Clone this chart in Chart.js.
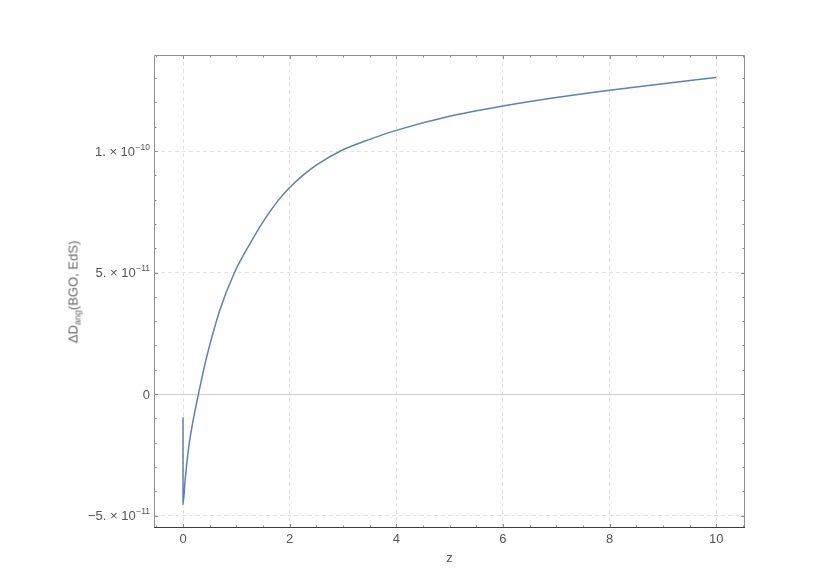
<!DOCTYPE html>
<html>
<head>
<meta charset="utf-8">
<script src="https://cdn.jsdelivr.net/npm/chart.js@4"></script>
<style>
  body { margin: 0; background: #fff; }
  #wrap { position: relative; width: 830px; height: 587px; }
  #ytitle {
    position: absolute; left: 73px; top: 292px;
    transform: translate(-50%, -50%) rotate(-90deg);
    font: 13px "Liberation Sans", Arial, sans-serif; color: #666; white-space: nowrap;
  }
  #ytitle sub { font-size: 9px; vertical-align: baseline; position: relative; top: 3px; }
</style>
</head>
<body>
<div id="wrap">
  <canvas id="chart"></canvas>
  <div id="ytitle">ΔD<sub>ang</sub>(BGO, EdS)</div>
</div>
<script>
// ---- data ----
const zValues = [0, 0, 0.04, 0.1, 0.18, 0.29, 0.43, 0.69, 0.96, 1.26, 1.54, 1.79, 2.0, 2.26, 2.5, 3.0, 3.5, 4.0, 5.0, 6.0, 7.0, 8.0, 9.0, 10.0];
const deltaD = [-0.95e-11, -4.53e-11, -3.54e-11, -2.3e-11, -1.2e-11, 0, 1.4e-11, 3.45e-11, 4.97e-11, 6.2e-11, 7.22e-11, 7.98e-11,
                8.5e-11, 9.02e-11, 9.42e-11, 10.05e-11, 10.48e-11, 10.85e-11, 11.43e-11, 11.85e-11, 12.2e-11, 12.5e-11, 12.77e-11, 13.02e-11];

const xMajorTicks = [0, 2, 4, 6, 8, 10];
const yTickValues = [-5e-11, 0, 5e-11, 1e-10];
const yTickMantissa = ['−5. × 10', '0', '5. × 10', '1. × 10'];
const yTickExponent = ['−11', '', '−11', '−10'];

const FONT_FAMILY = '"Liberation Sans", Arial, sans-serif';
const FONT = { family: FONT_FAMILY, size: 13 };
const LABEL_COLOR = '#555';

const isMajorX = v => xMajorTicks.some(m => Math.abs(m - v) < 1e-6);
const yMajorIndex = v => yTickValues.findIndex(m => Math.abs(m - v) < 1e-14);

// frame, zero line, inward tick marks and y labels with superscripts
const framePlugin = {
  id: 'frame',
  beforeDatasetsDraw(chart) {
    const { ctx, chartArea: a, scales: { y } } = chart;
    const y0 = Math.round(y.getPixelForValue(0)) + 0.5;
    ctx.save();
    ctx.strokeStyle = '#cfcfcf';
    ctx.lineWidth = 1;
    ctx.beginPath();
    ctx.moveTo(a.left, y0);
    ctx.lineTo(a.right, y0);
    ctx.stroke();
    ctx.restore();
  },
  afterDraw(chart) {
    const { ctx, chartArea: a, scales: { x, y } } = chart;
    const seg = (x1, y1, x2, y2) => { ctx.beginPath(); ctx.moveTo(x1, y1); ctx.lineTo(x2, y2); ctx.stroke(); };
    ctx.save();
    ctx.lineWidth = 1;
    ctx.strokeStyle = '#8f8f8f';
    ctx.beginPath();
    ctx.moveTo(a.left + 0.5, a.bottom);
    ctx.lineTo(a.left + 0.5, a.top + 0.5);
    ctx.lineTo(a.right - 0.5, a.top + 0.5);
    ctx.lineTo(a.right - 0.5, a.bottom);
    ctx.stroke();

    x.ticks.forEach(t => {
      const px = Math.round(x.getPixelForValue(t.value)) + 0.5;
      const len = isMajorX(t.value) ? 4 : 2.5;
      seg(px, a.bottom, px, a.bottom - len);
      seg(px, a.top, px, a.top + len);
    });
    y.ticks.forEach(t => {
      const py = Math.round(y.getPixelForValue(t.value)) + 0.5;
      const len = yMajorIndex(t.value) >= 0 ? 4 : 2.5;
      seg(a.left, py, a.left + len, py);
      seg(a.right, py, a.right - len, py);
    });

    ctx.strokeStyle = '#3c3c3c';
    seg(a.left, a.bottom - 0.5, a.right, a.bottom - 0.5);

    // y tick labels: mantissa × 10 with raised exponent
    ctx.fillStyle = LABEL_COLOR;
    ctx.textAlign = 'right';
    yTickValues.forEach((v, i) => {
      const py = y.getPixelForValue(v);
      let right = a.left - 4;
      const base = py + 4.5;
      if (yTickExponent[i]) {
        ctx.font = '8.5px ' + FONT_FAMILY;
        ctx.fillText(yTickExponent[i], right, base - 6);
        right -= ctx.measureText(yTickExponent[i]).width + 0.5;
      }
      ctx.font = '13px ' + FONT_FAMILY;
      ctx.fillText(yTickMantissa[i], right, base);
    });
    ctx.restore();
  }
};

new Chart(document.getElementById('chart'), {
  type: 'scatter',
  data: {
    datasets: [{
      data: zValues.map((z, i) => ({ x: z, y: deltaD[i] })),
      showLine: true,
      borderColor: '#5e81b5',
      borderWidth: 1.5,
      pointRadius: 0,
      cubicInterpolationMode: 'monotone',
      fill: false
    }]
  },
  options: {
    responsive: true,
    maintainAspectRatio: false,
    animation: false,
    devicePixelRatio: 1,
    layout: { padding: { top: 55, right: 85, left: 0, bottom: 0 } },
    plugins: { legend: { display: false }, tooltip: { enabled: false } },
    scales: {
      x: {
        type: 'linear',
        min: -0.544, max: 10.54,
        afterFit: s => { s.height = 59; },
        border: { display: false, dash: [4, 3] },
        grid: {
          drawTicks: false,
          color: c => isMajorX(c.tick.value) ? '#e2e2e2' : 'rgba(0,0,0,0)'
        },
        ticks: {
          stepSize: 0.5, includeBounds: false, autoSkip: false, maxRotation: 0,
          padding: 4, color: LABEL_COLOR, font: FONT,
          callback: v => isMajorX(v) ? String(Math.round(v)) : ''
        },
        title: { display: true, text: 'z', color: LABEL_COLOR, font: FONT, padding: { top: 0, bottom: 21 } }
      },
      y: {
        type: 'linear',
        min: -5.51e-11, max: 13.95e-11,
        afterFit: s => { s.width = 154; },
        border: { display: false, dash: [4, 3] },
        grid: {
          drawTicks: false,
          color: c => {
            const i = yMajorIndex(c.tick.value);
            return (i >= 0 && yTickValues[i] !== 0) ? '#e2e2e2' : 'rgba(0,0,0,0)';
          }
        },
        ticks: {
          stepSize: 1e-11, includeBounds: false, autoSkip: false,
          callback: () => ''
        }
      }
    }
  },
  plugins: [framePlugin]
});
</script>
</body>
</html>
